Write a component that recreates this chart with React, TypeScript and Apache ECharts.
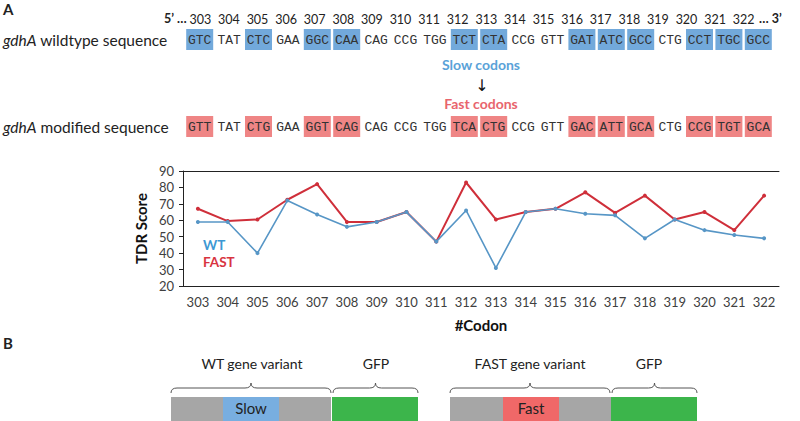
import React, { useEffect, useRef } from "react";
import * as echarts from "echarts";

const codonNumbers = ["303","304","305","306","307","308","309","310","311","312","313","314","315","316","317","318","319","320","321","322"];
const wtCodons = ["GTC","TAT","CTC","GAA","GGC","CAA","CAG","CCG","TGG","TCT","CTA","CCG","GTT","GAT","ATC","GCC","CTG","CCT","TGC","GCC"];
const fastCodons = ["GTT","TAT","CTG","GAA","GGT","CAG","CAG","CCG","TGG","TCA","CTG","CCG","GTT","GAC","ATT","GCA","CTG","CCG","TGT","GCA"];
const changedFlags = [1,0,1,0,1,1,0,0,0,1,1,0,0,1,1,1,0,1,1,1];
const wtScores = [59,59,40,72,63.5,56,59,65,47,66,31,65,67,64,63,49,60.5,54,51,49];
const fastScores = [67,59.5,60.5,72.5,82,59,59,65,47,83,60.5,65,67,77,64.5,75,60.5,65,54,75];
const seriesNames = ["WT", "FAST"];
const rowLabels = ["wildtype sequence", "modified sequence"];
const geneName = "gdhA";
const constructLabels = ["WT gene variant", "FAST gene variant"];
const regionLabels = ["Slow", "Fast"];
const reporterLabel = "GFP";

const BLUE_LINE = "#5796c6";
const RED_LINE = "#cf2f3a";
const BLUE_BOX = "#72a9db";
const RED_BOX = "#ef8585";
const FONT = "Lato";
const MONO = "Liberation Mono";

function bracePath(w: number, h: number) {
  const q = 6;
  const m = h / 2;
  return `M0 ${h} Q0 ${m} ${q} ${m} L${w / 2 - q} ${m} Q${w / 2} ${m} ${w / 2} 0 Q${w / 2} ${m} ${w / 2 + q} ${m} L${w - q} ${m} Q${w} ${m} ${w} ${h}`;
}

let registered = false;
function registerBraces() {
  if (registered) return;
  registered = true;
  echarts.graphic.registerShape("braceL", echarts.graphic.extendPath(bracePath(160, 10), {}) as any);
  echarts.graphic.registerShape("braceS", echarts.graphic.extendPath(bracePath(85, 10), {}) as any);
}

function codonSeries(xIdx: number, yIdx: number, codons: string[], boxColor: string) {
  return {
    type: "custom",
    xAxisIndex: xIdx,
    yAxisIndex: yIdx,
    clip: false,
    silent: true,
    data: codons.map((_, i) => [i, changedFlags[i]]),
    renderItem: (params: any, api: any) => {
      const i = params.dataIndex;
      const p0 = api.coord([i, 0]);
      const p1 = api.coord([i, 1]);
      const band = api.size([1, 0])[0];
      const w = band - 2.4;
      const children: any[] = [];
      if (changedFlags[i]) {
        children.push({
          type: "rect",
          shape: { x: p0[0] - w / 2, y: p1[1], width: w, height: p0[1] - p1[1] },
          style: { fill: boxColor },
        });
      }
      children.push({
        type: "text",
        style: {
          text: codons[i],
          x: p0[0],
          y: (p0[1] + p1[1]) / 2 + 1,
          align: "center",
          verticalAlign: "middle",
          fontFamily: MONO,
          fontSize: 13,
          fill: "#333",
        },
      });
      return { type: "group", children };
    },
  };
}

export default function App() {
  const ref = useRef<HTMLDivElement>(null);
  useEffect(() => {
    if (!ref.current) return;
    registerBraces();
    const chart = echarts.init(ref.current, null, { renderer: "svg" });
    const hiddenX = (gridIndex: number) => ({
      type: "category",
      gridIndex,
      data: codonNumbers,
      boundaryGap: true,
      show: false,
    });
    const hiddenY = (gridIndex: number) => ({
      type: "value",
      gridIndex,
      min: 0,
      max: 1,
      show: false,
    });
    const txt = (x: number, y: number, text: string, extra: any = {}) => ({
      type: "text",
      x,
      y,
      style: {
        text,
        fontFamily: FONT,
        fontSize: 14,
        fill: "#222",
        align: "center",
        verticalAlign: "middle",
        ...extra,
      },
    });
    const rowLabel = (y: number, label: string) => ({
      type: "text",
      x: 3,
      y,
      style: {
        text: `{i|${geneName}} ${label}`,
        fontFamily: FONT,
        fontSize: 15.5,
        fill: "#222",
        verticalAlign: "middle",
        rich: { i: { fontStyle: "italic", fontFamily: FONT, fontSize: 15.5, fill: "#222" } },
      },
    });
    const option: any = {
      animation: false,
      backgroundColor: "#fff",
      textStyle: { fontFamily: FONT },
      grid: [
        { left: 183, right: 21, top: 171, height: 115 },
        { left: 186, right: 42, top: 29, height: 1 },
        { left: 185, right: 27, top: 29, height: 21 },
        { left: 185, right: 27, top: 116, height: 21 },
      ],
      legend: {
        orient: "vertical",
        left: 193,
        top: 233,
        itemGap: 3,
        itemWidth: 0,
        itemHeight: 0,
        selectedMode: false,
        data: [
          { name: seriesNames[0], icon: "none", textStyle: { color: "#3d98d3" } },
          { name: seriesNames[1], icon: "none", textStyle: { color: "#d8343f" } },
        ],
        textStyle: { fontFamily: FONT, fontSize: 13.5, fontWeight: "bold" },
      },
      xAxis: [
        {
          type: "category",
          gridIndex: 0,
          data: codonNumbers,
          boundaryGap: true,
          name: "#Codon",
          nameLocation: "middle",
          nameGap: 31,
          nameTextStyle: { fontFamily: FONT, fontSize: 15, fontWeight: "bold", color: "#111" },
          axisLine: { lineStyle: { color: "#222", width: 1 } },
          axisTick: { inside: true, length: 4, lineStyle: { color: "#222" } },
          axisLabel: { fontSize: 13, color: "#404040", margin: 9, fontFamily: FONT, interval: 0 },
        },
        {
          type: "category",
          gridIndex: 0,
          position: "top",
          data: codonNumbers,
          boundaryGap: true,
          axisLine: { lineStyle: { color: "#222", width: 1 } },
          axisTick: { inside: true, length: 4, lineStyle: { color: "#222" } },
          axisLabel: { show: false },
        },
        {
          type: "category",
          gridIndex: 1,
          position: "top",
          data: codonNumbers,
          boundaryGap: true,
          axisLine: { show: false },
          axisTick: { show: false },
          axisLabel: { fontSize: 12.5, color: "#222", margin: 3, fontFamily: FONT, interval: 0 },
        },
        hiddenX(2),
        hiddenX(3),
      ],
      yAxis: [
        {
          type: "value",
          gridIndex: 0,
          min: 20,
          max: 90,
          interval: 10,
          name: "TDR Score",
          nameLocation: "middle",
          nameGap: 32,
          nameTextStyle: { fontFamily: FONT, fontSize: 15, fontWeight: "bold", color: "#111" },
          splitLine: { show: false },
          axisLine: { show: true, lineStyle: { color: "#222", width: 1 } },
          axisTick: { show: true, length: 4, lineStyle: { color: "#222" } },
          axisLabel: { fontSize: 13, color: "#404040", margin: 9, fontFamily: FONT },
        },
        hiddenY(1),
        hiddenY(2),
        hiddenY(3),
      ],
      series: [
        {
          name: seriesNames[0],
          type: "line",
          xAxisIndex: 0,
          yAxisIndex: 0,
          data: wtScores,
          symbol: "circle",
          symbolSize: 4,
          lineStyle: { color: BLUE_LINE, width: 1.6 },
          itemStyle: { color: BLUE_LINE },
          z: 2,
        },
        {
          name: seriesNames[1],
          type: "line",
          xAxisIndex: 0,
          yAxisIndex: 0,
          data: fastScores,
          symbol: "circle",
          symbolSize: 4,
          lineStyle: { color: RED_LINE, width: 2 },
          itemStyle: { color: RED_LINE },
          z: 1,
        },
        codonSeries(3, 2, wtCodons, BLUE_BOX),
        codonSeries(4, 3, fastCodons, RED_BOX),
      ],
      graphic: [
        txt(3, 9, "A", { align: "left", fontWeight: "bold", fontSize: 15 }),
        txt(164, 18, "5\u2019 \u2026", { align: "left", fontWeight: "bold", fontSize: 12.5 }),
        txt(759, 18, "\u2026 3\u2019", { align: "left", fontWeight: "bold", fontSize: 12.5 }),
        rowLabel(40, rowLabels[0]),
        rowLabel(127, rowLabels[1]),
        txt(481, 64, "Slow codons", { fontWeight: "bold", fill: "#5aa2d8" }),
        txt(482, 85, "\u2193", { fontSize: 16, fill: "#111", fontFamily: "DejaVu Sans" }),
        txt(481, 103, "Fast codons", { fontWeight: "bold", fill: "#e8656d" }),
        txt(3, 343, "B", { align: "left", fontWeight: "bold", fontSize: 15 }),
        txt(252, 363, constructLabels[0]),
        txt(376, 363, reporterLabel),
        txt(530, 363, constructLabels[1]),
        txt(649, 363, reporterLabel),
        { type: "braceL", x: 171, y: 383, style: { stroke: "#555", fill: "none", lineWidth: 1 } },
        { type: "braceS", x: 333, y: 383, style: { stroke: "#555", fill: "none", lineWidth: 1 } },
        { type: "braceL", x: 450, y: 383, style: { stroke: "#555", fill: "none", lineWidth: 1 } },
        { type: "braceS", x: 612, y: 383, style: { stroke: "#555", fill: "none", lineWidth: 1 } },
        { type: "rect", shape: { x: 171, y: 397, width: 160, height: 24 }, style: { fill: "#a6a6a6" } },
        { type: "rect", shape: { x: 223, y: 397, width: 56, height: 24 }, style: { fill: "#78aee0" } },
        { type: "rect", shape: { x: 332, y: 397, width: 86, height: 24 }, style: { fill: "#3cb54b" } },
        { type: "rect", shape: { x: 450, y: 397, width: 161, height: 24 }, style: { fill: "#a6a6a6" } },
        { type: "rect", shape: { x: 503, y: 397, width: 56, height: 24 }, style: { fill: "#f06868" } },
        { type: "rect", shape: { x: 611, y: 397, width: 86, height: 24 }, style: { fill: "#3cb54b" } },
        txt(251, 408, regionLabels[0], { fontSize: 15 }),
        txt(531, 408, regionLabels[1], { fontSize: 15 }),
      ],
    };
    chart.setOption(option);
    return () => chart.dispose();
  }, []);
  return (
    <div
      ref={ref}
      style={{ position: "fixed", left: 0, top: 0, width: 800, height: 421, background: "#fff" }}
    />
  );
}
